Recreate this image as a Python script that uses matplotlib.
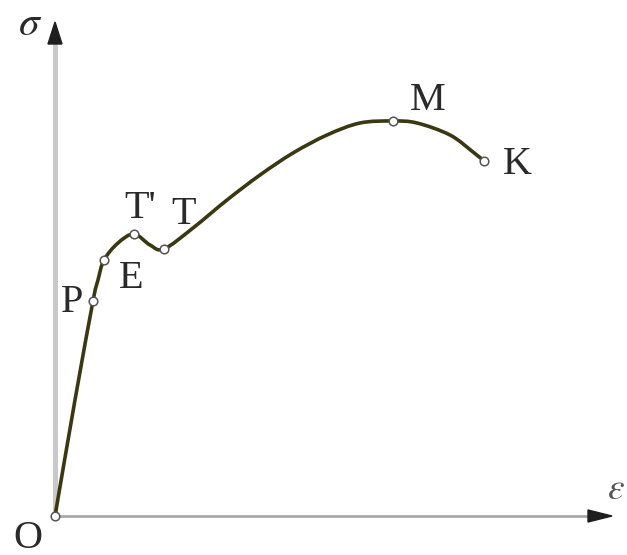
import matplotlib
matplotlib.use("Agg")
import matplotlib.pyplot as plt
from matplotlib.path import Path
from matplotlib.patches import PathPatch, Polygon
import numpy as np

# Curve (strain, stress) in arbitrary units
strain = [0, 20, 38, 43, 49, 63, 79, 95, 109, 138, 172, 205, 238, 272, 305, 338, 362, 395, 418, 429]
stress = [0, 116, 215, 236, 256, 273, 282, 271, 267, 288, 316, 341, 363, 381, 393, 395, 393, 381, 364, 355]

# Characteristic points
pt_names = ["O", "P", "E", "T'", "T", "M", "K"]
pt_strain = [0, 38, 49, 79, 109, 338, 429]
pt_stress = [0, 215, 256, 282, 267, 395, 355]
# label offsets (in data units) from each point
lab_dx = [-27, -21, 27, 6, 20, 35, 33]
lab_dy = [-22, -1, -19, 26, 35, 20, -4]

fig = plt.figure(figsize=(6.27, 5.55), dpi=100)
ax = fig.add_axes([0, 0, 1, 1])
ax.set_xlim(-55, 572)
ax.set_ylim(-39, 516)
ax.axis("off")

# axes
ax.plot([0, 0], [0, 474], color="#c9c9c9", lw=3.6, solid_capstyle="butt", zorder=1)
ax.add_patch(Polygon([[-7, 472], [7, 472], [0, 494]], closed=True, color="#1e1e1e", zorder=2))
ax.plot([0, 535], [0, 0], color="#a8a8a8", lw=2.0, solid_capstyle="butt", zorder=1)
ax.add_patch(Polygon([[533, -6], [533, 6], [557, 0]], closed=True, color="#1e1e1e", zorder=2))

# smooth curve through read points (Catmull-Rom -> Bezier)
P = np.column_stack([strain, stress]).astype(float)
verts = [P[0]]
codes = [Path.MOVETO]
n = len(P)
for i in range(n - 1):
    p0 = P[i - 1] if i > 0 else P[i]
    p1 = P[i]
    p2 = P[i + 1]
    p3 = P[i + 2] if i + 2 < n else P[i + 1]
    c1 = p1 + (p2 - p0) / 6.0
    c2 = p2 - (p3 - p1) / 6.0
    verts += [c1, c2, p2]
    codes += [Path.CURVE4] * 3
ax.add_patch(PathPatch(Path(verts, codes), facecolor="none", edgecolor="#3a3812",
                       lw=2.6, capstyle="round", joinstyle="round", zorder=3))

# markers
ax.plot(pt_strain, pt_stress, "o", ms=6.2, mfc="white", mec="#555555", mew=1.1, zorder=4)

# labels
for nm, x, y, dx, dy in zip(pt_names, pt_strain, pt_stress, lab_dx, lab_dy):
    ax.text(x + dx, y + dy, nm, ha="center", va="center", fontsize=29,
            family="Liberation Serif", color="#2a2a2a", zorder=5)

ax.text(-25, 493, r"$\sigma$", ha="center", va="center", fontsize=30, color="#2a2a2a",
        math_fontfamily="stix")
ax.text(561, 27, r"$\varepsilon$", ha="center", va="center", fontsize=27, color="#555555",
        math_fontfamily="stix")

fig.savefig("out.png", dpi=100)
